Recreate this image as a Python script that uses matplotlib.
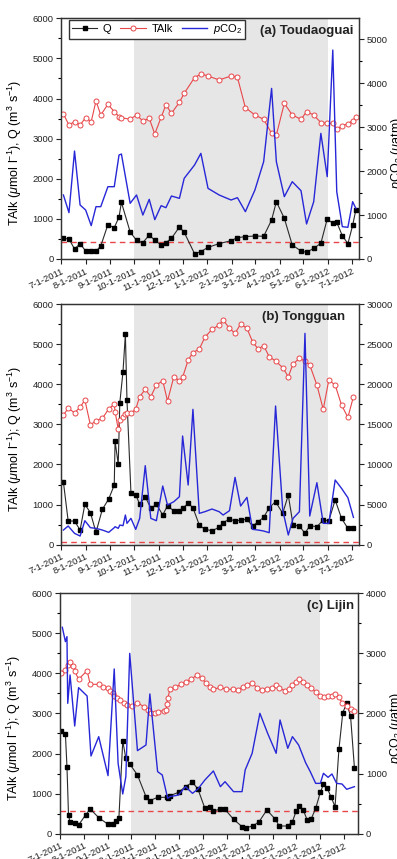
"""Q, TAlk and pCO2 time series at three Yellow River stations (2011-2012)"""
import numpy as np
import matplotlib
matplotlib.use("Agg")
import matplotlib.pyplot as plt
import matplotlib.dates as mdates
from matplotlib.ticker import MultipleLocator, FuncFormatter

plt.rcParams["font.family"] = ["Liberation Sans", "DejaVu Sans"]
plt.rcParams["mathtext.fontset"] = "custom"
plt.rcParams["mathtext.rm"] = "Liberation Sans"
plt.rcParams["mathtext.it"] = "Liberation Sans:italic"
plt.rcParams["mathtext.bf"] = "Liberation Sans:bold"

START = np.datetime64("2011-07-01")
DRY_START, DRY_END = np.datetime64("2011-10-01"), np.datetime64("2012-06-01")

# ─── (a) Toudaoguai: days since 7-1-2011 ───────────────────────────────
days_a = [3, 10, 17, 24, 31, 38, 44, 50, 59, 67, 73, 76, 87, 95, 103, 111, 118, 126, 132, 139,
          149, 155, 168, 176, 185, 199, 214, 222, 232, 244, 255, 265, 271, 281, 291, 302, 309,
          318, 327, 335, 342, 347, 354, 361, 367, 371]
q_a = [516, 499, 249, 382, 199, 191, 191, 324, 856, 781, 1047, 1413, 673, 465, 407, 598, 465,
       349, 407, 515, 798, 665, 133, 183, 291, 382, 457, 532, 557, 574, 565, 972, 1429, 1014,
       349, 199, 166, 266, 391, 997, 889, 914, 582, 382, 839, 1222]
talk_a = [3615, 3341, 3424, 3341, 3523, 3424, 3939, 3590, 3856, 3673, 3548, 3523, 3482, 3590,
          3440, 3507, 3116, 3532, 3839, 3632, 3906, 4130, 4521, 4612, 4562, 4463, 4562, 4529,
          3773, 3590, 3482, 3133, 3091, 3881, 3590, 3482, 3673, 3590, 3399, 3382, 3382, 3233,
          3316, 3374, 3449, 3532]
pco2_a = [1457, 1055, 2458, 1229, 1115, 759, 1191, 1191, 1646, 1646, 2367, 2390, 1267, 1457,
          1001, 1358, 895, 1214, 1168, 1434, 1381, 1836, 2139, 2405, 1608, 1457, 1343, 1396,
          1077, 1570, 2215, 3884, 2215, 1419, 1760, 1555, 797, 1305, 2860, 1874, 4757, 1532,
          736, 721, 1305, 1153]

# ─── (b) Tongguan ──────────────────────────────────────────────────────
days_b = [3, 9, 17, 24, 30, 37, 44, 52, 60, 67, 68, 72, 74, 78, 81, 83, 88, 94, 99, 106, 113,
          120, 128, 134, 142, 149, 153, 160, 166, 174, 181, 190, 199, 204, 212, 219, 226, 234,
          241, 248, 255, 262, 270, 279, 286, 292, 300, 307, 313, 322, 330, 337, 345, 353, 361,
          368]
q_b = [1562, 590, 590, 366, 1006, 798, 307, 881, 1138, 1487, 2584, 2003, 3540, 4313, 5252,
       3607, 1296, 1247, 1006, 1197, 906, 1006, 740, 972, 839, 848, 906, 1030, 922, 490, 382,
       349, 432, 548, 640, 590, 615, 632, 465, 573, 681, 922, 1072, 781, 1238, 490, 465, 283,
       474, 449, 615, 598, 1114, 656, 407, 424]
talk_b = [3233, 3399, 3291, 3424, 3607, 2983, 3091, 3149, 3382, 3507, 3316, 2884, 3108, 3191,
          3249, 3274, 3274, 3382, 3690, 3872, 3690, 3980, 4089, 3582, 4188, 4080, 4172, 4604,
          4787, 4878, 5169, 5368, 5476, 5601, 5393, 5269, 5501, 5393, 5061, 4878, 4961, 4687,
          4579, 4413, 4188, 4504, 4645, 4579, 4479, 3980, 3374, 4105, 3980, 3482, 3174, 3690]
pco2_b = [1828, 2327, 1413, 1080, 2992, 2119, 2036, 1828, 1537, 2119, 2244, 2036, 2451, 2368,
          3698, 2659, 3282, 1911, 3282, 9847, 3282, 2992, 7313, 4944, 5360, 5983, 13545, 7437,
          16869, 3906, 4113, 4446, 4113, 3698, 4238, 8393, 4820, 5900, 1911, 1828, 1704, 1496,
          17285, 4321, 1205, 3282, 4113, 26342, 3573, 7728, 2659, 2659, 8061, 7022, 5859, 3407]

# ─── (c) Lijin: each series has its own sampling days ──────────────────
days_c_q = [1, 7, 9, 11, 13, 19, 24, 33, 39, 50, 62, 68, 72, 76, 81, 85, 90, 100, 111, 116,
            126, 138, 140, 142, 153, 162, 171, 178, 187, 193, 198, 207, 213, 224, 235, 240,
            249, 257, 267, 278, 283, 294, 300, 305, 309, 314, 319, 324, 330, 336, 340, 345,
            350, 355, 360, 365, 370, 375, 380]
q_c = [2562, 2479, 1672, 466, 283, 275, 216, 466, 616, 399, 233, 241, 324, 383, 2313, 1880,
       1739, 1464, 923, 824, 907, 907, 882, 948, 1032, 1173, 1281, 1115, 632, 657, 574, 607,
       607, 358, 175, 150, 191, 299, 591, 358, 191, 191, 299, 574, 690, 591, 341, 358, 632,
       1032, 1231, 1131, 907, 674, 2105, 3020, 3253, 2937, 1647]
days_c_talk = [1, 6, 10, 13, 17, 19, 24, 35, 39, 50, 56, 62, 65, 68, 70, 73, 78, 82, 87, 93,
               100, 108, 114, 118, 123, 127, 134, 137, 138, 139, 142, 149, 156, 162, 169, 177,
               183, 188, 193, 198, 207, 214, 223, 230, 236, 241, 248, 254, 261, 267, 274, 279,
               283, 291, 295, 299, 304, 309, 314, 319, 324, 330, 336, 341, 346, 351, 355, 360,
               364, 370, 376, 380]
talk_c = [4018, 4085, 4209, 4293, 4184, 4060, 3852, 4068, 3727, 3727, 3669, 3627, 3561, 3502,
          3436, 3378, 3336, 3253, 3211, 3186, 3269, 3170, 3086, 3020, 3020, 3045, 3070, 3086,
          3236, 3378, 3602, 3652, 3727, 3793, 3852, 3960, 3877, 3769, 3669, 3602, 3652, 3602,
          3602, 3585, 3669, 3710, 3769, 3644, 3585, 3602, 3644, 3710, 3627, 3569, 3610, 3710,
          3793, 3852, 3793, 3710, 3627, 3544, 3436, 3403, 3436, 3436, 3486, 3403, 3269, 3186,
          3103, 3061]
days_c_pco2 = [3, 7, 9, 10, 13, 19, 24, 35, 40, 50, 62, 70, 75, 81, 85, 90, 100, 111, 116, 126,
               132, 139, 142, 153, 162, 171, 178, 187, 198, 207, 213, 224, 235, 239, 248, 258,
               268, 279, 284, 294, 300, 308, 317, 323, 330, 336, 340, 346, 351, 357, 364, 370,
               380]
pco2_c = [3433, 3194, 3278, 2168, 2640, 1791, 2429, 2290, 1292, 1614, 965, 2740, 1170, 660, 948,
          3000, 1381, 1475, 2324, 1032, 976, 588, 616, 643, 782, 671, 743, 893, 1043, 782, 865,
          699, 699, 1059, 1337, 2002, 1669, 1337, 1891, 1420, 1614, 1475, 1181, 1032, 837, 837,
          1004, 937, 993, 837, 826, 738, 782]

# red dashed reference discharge per station
q_ref = {"a": 432, "b": 60, "c": 566}


def to_dates(days):
    return START + np.array(days, dtype="timedelta64[D]")


def month_label(x, pos):
    d = mdates.num2date(x)
    return f"{d.month}-{d.day}-{d.year}"


fig = plt.figure(figsize=(3.97, 8.59), dpi=100)
fig.patch.set_facecolor("white")

RED, BLUE, GREY = "#e8474a", "#2727d8", "#e6e6e6"
TICK_FS = 6.8


def draw_panel(pos, qd, q, td, talk, pd_, pco2, ref, xend, pmax, pmaj, title, title_x,
               ylabel, plabel_x, legend=False):
    ax = fig.add_axes(pos)
    ax2 = ax.twinx()
    ax.axvspan(DRY_START, DRY_END, color=GREY, lw=0, zorder=0)
    ax.axhline(ref, color=RED, lw=1.0, ls=(0, (4, 3)), zorder=1)
    l1, = ax.plot(to_dates(qd), q, color="#2a2a2a", lw=0.8, marker="s", ms=3.2,
                  mfc="black", mec="black", zorder=3, label="Q")
    l2, = ax.plot(to_dates(td), talk, color=RED, lw=0.8, marker="o", ms=3.6, mfc="white",
                  mec=RED, mew=0.7, zorder=3, label="TAlk")
    l3, = ax2.plot(to_dates(pd_), pco2, color=BLUE, lw=1.0, label=r"$p$CO$_2$")

    ax.set_xlim(START, np.datetime64(xend))
    ax.set_ylim(0, 6000)
    ax2.set_ylim(0, pmax)
    ax.yaxis.set_major_locator(MultipleLocator(1000))
    ax.yaxis.set_minor_locator(MultipleLocator(500))
    ax2.yaxis.set_major_locator(MultipleLocator(pmaj))
    ax2.yaxis.set_minor_locator(MultipleLocator(pmaj / 2))
    ax.xaxis.set_major_locator(mdates.MonthLocator(bymonthday=1))
    ax.xaxis.set_major_formatter(FuncFormatter(month_label))

    for a in (ax, ax2):
        a.tick_params(which="major", direction="out", length=3.5, width=0.8,
                      labelsize=TICK_FS, colors="#222222", pad=2)
        a.tick_params(which="minor", direction="out", length=2.2, width=0.8)
        for s in a.spines.values():
            s.set_linewidth(0.9)
            s.set_color("#333333")
    for lab in ax.get_xticklabels():
        lab.set_rotation(25)
        lab.set_ha("right")
        lab.set_rotation_mode("anchor")

    ax.set_ylabel(ylabel, fontsize=9)
    ax.yaxis.set_label_coords(-0.125, 0.44)
    ax2.set_ylabel(r"$p$CO$_2$ ($\mu$atm)", fontsize=9)
    ax2.yaxis.set_label_coords(plabel_x, 0.44)

    ax.text(title_x, 0.947, title, transform=ax.transAxes, ha="right", va="center",
            fontsize=9.5, fontweight="bold", color="#222222")
    if legend:
        ax2.legend(handles=[l1, l2, l3], loc="upper left", bbox_to_anchor=(0.027, 0.995),
                   ncol=3, fontsize=8, frameon=True, fancybox=False, edgecolor="#333333",
                   framealpha=1, borderaxespad=0, borderpad=0.25, handlelength=2.3,
                   handletextpad=0.5, columnspacing=0.8)
    return ax, ax2


draw_panel([0.1537, 0.6985, 0.7506, 0.2802], days_a, q_a, days_a, talk_a, days_a, pco2_a,
           q_ref["a"], "2012-07-10", 5480, 1000, "(a) Toudaoguai", 0.983,
           r"TAlk ($\mu$mol l$^{-1}$), Q (m$^3$ s$^{-1}$)", 1.10, legend=True)
draw_panel([0.1537, 0.3659, 0.7506, 0.2802], days_b, q_b, days_b, talk_b, days_b, pco2_b,
           q_ref["b"], "2012-07-10", 30000, 5000, "(b) Tongguan", 0.955,
           r"TAlk ($\mu$mol l$^{-1}$); Q (m$^3$ s$^{-1}$)", 1.30)
draw_panel([0.1511, 0.0295, 0.7514, 0.2799], days_c_q, q_c, days_c_talk, talk_c,
           days_c_pco2, pco2_c, q_ref["c"], "2012-07-20", 4000, 1000, "(c) Lijin", 0.986,
           r"TAlk ($\mu$mol l$^{-1}$); Q (m$^3$ s$^{-1}$)", 1.10)

fig.savefig("out.png", dpi=100)
plt.close(fig)
